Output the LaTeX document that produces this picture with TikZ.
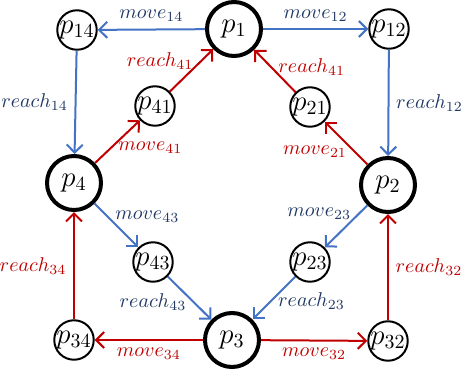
\documentclass[tikz,border=0pt]{standalone}
\usepackage{tikz}
\usetikzlibrary{arrows.meta, positioning}
\definecolor{edgeblue}{RGB}{68,114,196}
\definecolor{labelblue}{RGB}{32,56,100}
\definecolor{darkred}{RGB}{192,0,0}
\tikzset{
	state/.style={circle,draw=black,line width=1pt,minimum size=18pt,inner sep=0pt,font=\Large},
	main state/.style={state,line width=2pt,minimum size=27pt},
	edge/.style={-{Straight Barb[length=4pt,width=8pt]},line width=1pt},
	blue edge/.style={edge,edgeblue},
	red edge/.style={edge,darkred},
	blue label/.style={text=labelblue},
	red label/.style={text=darkred}
}

\begin{document}
\begin{tikzpicture}[x=0.5pt,y=-0.5pt]

	\useasboundingbox (0,0) rectangle (462,376);

	%% main places
	\node[main state] (p1) at (234,29)  {$p_1$};
	\node[main state] (p2) at (388,185) {$p_2$};
	\node[main state] (p3) at (232,340) {$p_3$};
	\node[main state] (p4) at (74,183)  {$p_4$};

	%% intermediate places
	\node[state] (p14) at (77,30)   {$p_{14}$};
	\node[state] (p12) at (389,29)  {$p_{12}$};
	\node[state] (p41) at (155,106) {$p_{41}$};
	\node[state] (p21) at (310,107) {$p_{21}$};
	\node[state] (p43) at (153,262) {$p_{43}$};
	\node[state] (p23) at (310,262) {$p_{23}$};
	\node[state] (p34) at (74,340)  {$p_{34}$};
	\node[state] (p32) at (388,341) {$p_{32}$};

	%% top
	\draw[blue edge] (p1)--(p14) node[blue label,midway,above] {$move_{14}$};
	\draw[blue edge] (p14)--(p4) node[blue label,midway,left] {$reach_{14}$};
	\draw[red edge] (p4)--(p41) node[red label,pos=0.35,right] {$move_{41}$};
	\draw[red edge] (p41)--(p1) node[red label,pos=0.72,left] {$reach_{41}$};

	\draw[blue edge] (p1)--(p12) node[blue label,midway,above] {$move_{12}$};
	\draw[blue edge] (p12)--(p2) node[blue label,midway,right] {$reach_{12}$};
	\draw[red edge] (p2)--(p21) node[red label,pos=0.3,left] {$move_{21}$};
	\draw[red edge] (p21)--(p1) node[red label,pos=0.6,right] {$reach_{41}$};

	%% bottom
	\draw[blue edge] (p4)--(p43) node[blue label,pos=0.3,right] {$move_{43}$};
	\draw[blue edge] (p43)--(p3) node[blue label,pos=0.6,left] {$reach_{43}$};
	\draw[blue edge] (p2)--(p23) node[blue label,pos=0.2,left] {$move_{23}$};
	\draw[blue edge] (p23)--(p3) node[blue label,pos=0.58,right] {$reach_{23}$};

	\draw[red edge] (p3)--(p34) node[red label,midway,below] {$move_{34}$};
	\draw[red edge] (p34)--(p4) node[red label,midway,left] {$reach_{34}$};
	\draw[red edge] (p3)--(p32) node[red label,midway,below] {$move_{32}$};
	\draw[red edge] (p32)--(p2) node[red label,midway,right] {$reach_{32}$};

\end{tikzpicture}
\end{document}
